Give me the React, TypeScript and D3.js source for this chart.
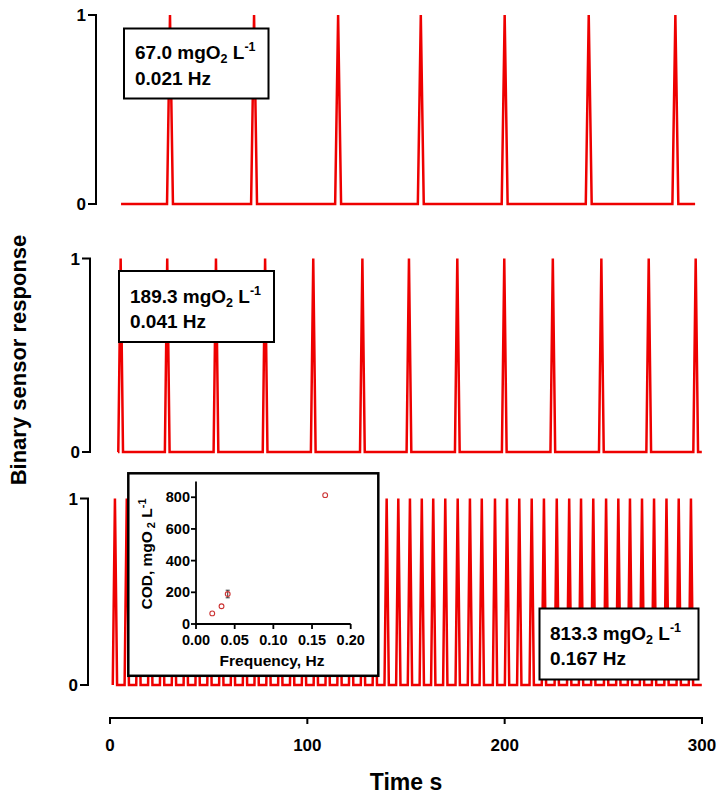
import React from 'react';
import * as d3 from 'd3';

// ---------- data ----------
const xTicks = [0, 100, 200, 300];
const binaryTicks = [0, 1];

const topStartEnd = [5.6, 296.5];
const topSpikeTimes = [30.4, 73.0, 115.6, 157.5, 200.0, 242.6, 286.5];

const middleStartEnd = [4.0, 299.9];
const middleSpikeTimes = [5.4, 29.0, 53.7, 78.6, 103.0, 127.9, 151.5, 176.0, 199.8, 224.4, 249.0, 273.0, 296.8];

const bottomStartEnd = [1.4, 299.9];
const bottomSpikeTimes = [
  2.5, 8.5, 14.4, 20.4, 26.4, 32.4, 38.4, 44.4, 50.4, 56.4, 62.3, 68.4, 74.3, 80.3, 86.3, 92.3,
  98.3, 104.3, 110.3, 116.3, 122.2, 128.2, 134.2, 140.2, 146.1, 152.0, 158.0, 163.8, 169.9, 176.2,
  182.4, 188.4, 195.1, 201.2, 207.4, 213.7, 219.9, 226.4, 232.7, 238.7, 244.9, 251.4, 257.6, 263.5,
  269.6, 275.7, 282.0, 288.2, 294.4,
];

const codLabels = ['67.0', '189.3', '813.3'];
const freqLabels = ['0.021', '0.041', '0.167'];

const insetFreq = [0.021, 0.033, 0.041, 0.167];
const insetCOD = [67.0, 112, 189.3, 813.3];
const insetErr = [0, 0, 24, 0];
const insetXTicks = [0, 0.05, 0.1, 0.15, 0.2];
const insetYTicks = [0, 200, 400, 600, 800];

// ---------- helpers ----------
const FONT = '"Liberation Sans", Arial, "Helvetica", sans-serif';
const RED = '#ee0000';

function traceOf(startEnd: number[], spikes: number[], w: number): [number, number][] {
  const pts: [number, number][] = [[startEnd[0], 0]];
  spikes.forEach((t) => {
    pts.push([Math.max(startEnd[0], t - w), 0]);
    pts.push([t, 1]);
    pts.push([Math.min(startEnd[1], t + w), 0]);
  });
  pts.push([startEnd[1], 0]);
  return pts;
}

const x = d3.scaleLinear().domain([0, 300]).range([110, 702]);

type PanelSpec = {
  y0: number;
  y1: number;
  axisX: number;
  startEnd: number[];
  spikes: number[];
  w: number;
};

function Panel({ p }: { p: PanelSpec }) {
  const y = d3.scaleLinear().domain([0, 1]).range([p.y0, p.y1]);
  const line = d3
    .line<[number, number]>()
    .x((d) => x(d[0]))
    .y((d) => y(d[1]));
  const data = traceOf(p.startEnd, p.spikes, p.w);
  return (
    <g>
      <path d={line(data) || ''} fill="none" stroke={RED} strokeWidth={2.5} strokeLinejoin="miter" strokeMiterlimit={20} />
      <path
        d={`M${p.axisX - 8},${y(1)}H${p.axisX}V${y(0)}H${p.axisX - 8}`}
        fill="none"
        stroke="#000"
        strokeWidth={2}
      />
      {binaryTicks.map((t) => (
        <text
          key={t}
          x={p.axisX - 10}
          y={y(t) + 6}
          textAnchor="end"
          fontFamily={FONT}
          fontWeight="bold"
          fontSize={17}
        >
          {t}
        </text>
      ))}
    </g>
  );
}

function LabelBox({ x0, y0, w, h, tx, ty1, ty2, cod, freq }: any) {
  return (
    <g>
      <rect x={x0} y={y0} width={w} height={h} fill="#fff" stroke="#000" strokeWidth={2} />
      <text x={tx} y={ty1} fontFamily={FONT} fontWeight="bold" fontSize={19}>
        <tspan>{cod} mgO</tspan>
        <tspan fontSize={12.5} dy={4}>2</tspan>
        <tspan dy={-4}> L</tspan>
        <tspan fontSize={12.5} dy={-8}>-1</tspan>
      </text>
      <text x={tx} y={ty2} fontFamily={FONT} fontWeight="bold" fontSize={19}>
        {freq} Hz
      </text>
    </g>
  );
}

function Inset() {
  const ix = d3.scaleLinear().domain([0, 0.2]).range([196, 350.7]);
  const iy = d3.scaleLinear().domain([0, 900]).range([624, 481.4]);
  return (
    <g>
      <rect x={128.3} y={473.3} width={250} height={202.5} fill="#fff" stroke="#000" strokeWidth={2.5} />
      <path d={`M${ix(0)},${iy(900)}V${iy(0)}H${ix(0.2)}`} fill="none" stroke="#000" strokeWidth={1.8} />
      {insetYTicks.map((t) => (
        <g key={t}>
          <line x1={ix(0) - 5} x2={ix(0)} y1={iy(t)} y2={iy(t)} stroke="#000" strokeWidth={1.8} />
          <text x={ix(0) - 6} y={iy(t) + 5} textAnchor="end" fontFamily={FONT} fontWeight="bold" fontSize={14.5}>
            {t}
          </text>
        </g>
      ))}
      {insetXTicks.map((t) => (
        <g key={t}>
          <line x1={ix(t)} x2={ix(t)} y1={iy(0)} y2={iy(0) + 5} stroke="#000" strokeWidth={1.8} />
          <text x={ix(t)} y={645} textAnchor="middle" fontFamily={FONT} fontWeight="bold" fontSize={14.5}>
            {t.toFixed(2)}
          </text>
        </g>
      ))}
      <text x={272} y={666} textAnchor="middle" fontFamily={FONT} fontWeight="bold" fontSize={15.5}>
        Frequency, Hz
      </text>
      <text
        transform={`translate(152,554) rotate(-90)`}
        textAnchor="middle"
        fontFamily={FONT}
        fontWeight="bold"
        fontSize={15.5}
      >
        <tspan>COD, mgO</tspan>
        <tspan fontSize={11} dy={3}> 2</tspan>
        <tspan dy={-3}> L</tspan>
        <tspan fontSize={11} dy={-6}>-1</tspan>
      </text>
      {insetFreq.map((f, i) => (
        <g key={i}>
          {insetErr[i] > 0 && (
            <path
              d={`M${ix(f) - 2},${iy(insetCOD[i] + insetErr[i])}h4M${ix(f)},${iy(insetCOD[i] + insetErr[i])}V${iy(
                insetCOD[i] - insetErr[i]
              )}M${ix(f) - 2},${iy(insetCOD[i] - insetErr[i])}h4`}
              stroke="#333"
              strokeWidth={1}
              fill="none"
            />
          )}
          <circle cx={ix(f)} cy={iy(insetCOD[i])} r={2.4} fill="none" stroke="#cc3333" strokeWidth={1.1} />
        </g>
      ))}
    </g>
  );
}

export default function App() {
  const panels: PanelSpec[] = [
    { y0: 204, y1: 15, axisX: 96, startEnd: topStartEnd, spikes: topSpikeTimes, w: 1.5 },
    { y0: 452, y1: 258.5, axisX: 90, startEnd: middleStartEnd, spikes: middleSpikeTimes, w: 1.2 },
    { y0: 685, y1: 498.5, axisX: 88, startEnd: bottomStartEnd, spikes: bottomSpikeTimes, w: 1.1 },
  ];
  return (
    <div style={{ position: 'absolute', left: 0, top: 0 }}>
      <svg width={722} height={801} style={{ display: 'block', background: '#fff' }}>
        {panels.map((p, i) => (
          <Panel key={i} p={p} />
        ))}
        <LabelBox x0={124} y0={28.5} w={144.5} h={70} tx={135} ty1={58.5} ty2={84.5} cod={codLabels[0]} freq={freqLabels[0]} />
        <LabelBox x0={119} y0={271} w={155} h={71} tx={130} ty1={302.5} ty2={327.5} cod={codLabels[1]} freq={freqLabels[1]} />
        <Inset />
        <LabelBox x0={539.5} y0={608.5} w={159} h={71} tx={550} ty1={639.5} ty2={665} cod={codLabels[2]} freq={freqLabels[2]} />

        {/* x axis */}
        <path d={`M${x(0)},724V718H${x(300)}V724`} fill="none" stroke="#000" strokeWidth={2} />
        {xTicks.map((t) => (
          <g key={t}>
            <line x1={x(t)} x2={x(t)} y1={718} y2={724} stroke="#000" strokeWidth={2} />
            <text x={x(t)} y={751} textAnchor="middle" fontFamily={FONT} fontWeight="bold" fontSize={17}>
              {t}
            </text>
          </g>
        ))}
        <text x={406} y={790} textAnchor="middle" fontFamily={FONT} fontWeight="bold" fontSize={23}>
          Time s
        </text>
        <text
          transform="translate(26,360) rotate(-90)"
          textAnchor="middle"
          fontFamily={FONT}
          fontWeight="bold"
          fontSize={22}
        >
          Binary sensor response
        </text>
      </svg>
    </div>
  );
}
